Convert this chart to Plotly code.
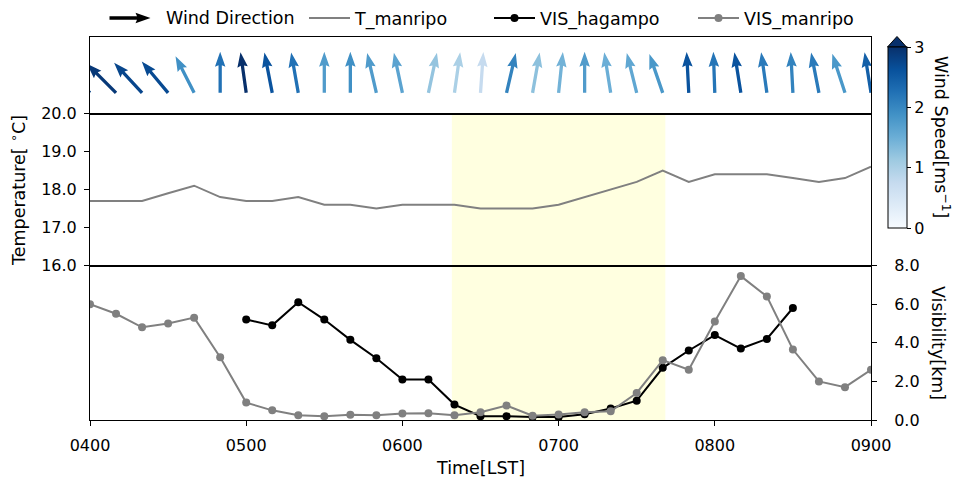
import math
import plotly.graph_objects as go
from plotly.colors import sequential, sample_colorscale

# ---------------- data ----------------
times = ["0400", "0410", "0420", "0430", "0440", "0450",
         "0500", "0510", "0520", "0530", "0540", "0550",
         "0600", "0610", "0620", "0630", "0640", "0650",
         "0700", "0710", "0720", "0730", "0740", "0750",
         "0800", "0810", "0820", "0830", "0840", "0850",
         "0900"]

temp_manripo = [17.7, 17.7, 17.7, 17.9, 18.1, 17.8,
                17.7, 17.7, 17.8, 17.6, 17.6, 17.5,
                17.6, 17.6, 17.6, 17.5, 17.5, 17.5,
                17.6, 17.8, 18.0, 18.2, 18.5, 18.2,
                18.4, 18.4, 18.4, 18.3, 18.2, 18.3,
                18.6]

vis_hagampo = [None, None, None, None, None, None,
               5.2, 4.9, 6.1, 5.2, 4.15, 3.2,
               2.1, 2.1, 0.8, 0.2, 0.2, 0.15,
               0.15, 0.3, 0.6, 1.0, 2.7, 3.6,
               4.4, 3.7, 4.2, 5.8, None, None,
               None]

vis_manripo = [6.0, 5.5, 4.8, 5.0, 5.3, 3.25,
               0.9, 0.5, 0.25, 0.2, 0.27, 0.25,
               0.34, 0.35, 0.25, 0.4, 0.75, 0.22,
               0.29, 0.4, 0.45, 1.4, 3.1, 2.6,
               5.1, 7.45, 6.4, 3.65, 2.0, 1.7,
               2.6]

# meteorological wind direction (deg, direction the wind blows from)
wind_dir = [135, 135, 137, 140, 153, 180,
            172, 169, 170, 180, 180, 167,
            168, 192, 188, 184, 193, 190,
            186, 180, 171, 166, 161, 177,
            178, 171, 172, 177, 169, 162,
            171]

wind_speed = [2.8, 2.9, 2.75, 2.7, 1.9, 2.25,
              3.0, 2.6, 2.25, 1.75, 1.9, 1.75,
              1.65, 1.2, 1.0, 0.75, 2.05, 1.25,
              1.45, 1.75, 1.5, 1.6, 1.8, 2.6,
              2.2, 2.6, 2.15, 2.05, 2.15, 1.8,
              2.45]

shade_start, shade_end = "0619", "0741"
x_tick_labels = ["0400", "0500", "0600", "0700", "0800", "0900"]
temp_ticks = [16, 17, 18, 19, 20]
vis_ticks = [0, 2, 4, 6, 8]
speed_ticks = [0, 1, 2, 3]

# ---------------- layout geometry ----------------
W, H = 955, 477
ML, MR, MT, MB = 90, 84, 37, 57
PW, PH = W - ML - MR, H - MT - MB
FONT = "DejaVu Sans"
FS_TICK = 16
FS_LAB = 17.5


def xpaper(px):
    return (px - ML) / PW


def ypaper(py):
    return (H - MB - py) / PH


def to_min(s):
    return int(s[:2]) * 60 + int(s[2:])


xm = [to_min(t) for t in times]
xtv = [to_min(t) for t in x_tick_labels]
x0, x1 = xtv[0], xtv[-1]
ppm = PW / (x1 - x0)           # pixels per minute

d_vis_top = ypaper(265.5)
d_temp_top = ypaper(113.5)
wind_h = PH * (1 - d_temp_top)  # wind panel height in px

blues = [[i / (len(sequential.Blues) - 1), c] for i, c in enumerate(sequential.Blues)]
GRAY = "#808080"

fig = go.Figure()

# ---------------- wind arrows (quiver-like polygons) ----------------
L, SW, HWD, HL, HAL = 41, 3.3, 10.5, 15, 13.5
tail_y = 0.27
shape_pts = [(0, -SW / 2), (L - HAL, -SW / 2), (L - HL, -HWD / 2), (L, 0),
             (L - HL, HWD / 2), (L - HAL, SW / 2), (0, SW / 2), (0, -SW / 2)]
for t, d, s in zip(xm, wind_dir, wind_speed):
    r = math.radians(d)
    u, v = -math.sin(r), -math.cos(r)
    n = math.hypot(u, v)
    ux, uy = u / n, v / n
    nx, ny = -uy, ux
    xs = [t + (a * ux + b * nx) / ppm for a, b in shape_pts]
    ys = [tail_y + (a * uy + b * ny) / wind_h for a, b in shape_pts]
    col = sample_colorscale(blues, [min(s / 3.0, 1.0)])[0]
    fig.add_trace(go.Scatter(x=xs, y=ys, mode="lines", fill="toself",
                             fillcolor=col, line=dict(width=0),
                             xaxis="x3", yaxis="y3", showlegend=False,
                             hoverinfo="skip"))

# colorbar carrier
fig.add_trace(go.Scatter(
    x=xm, y=[tail_y] * len(xm), mode="markers", xaxis="x3", yaxis="y3",
    marker=dict(color=wind_speed, colorscale=blues, cmin=0, cmax=3, size=1,
                opacity=0, showscale=True,
                colorbar=dict(x=xpaper(887.5), xanchor="left", xpad=0,
                              y=ypaper(228), yanchor="bottom", ypad=0,
                              len=(228 - 47) / PH, lenmode="fraction",
                              thickness=19, thicknessmode="pixels",
                              outlinewidth=1, outlinecolor="black",
                              tickvals=speed_ticks, ticks="outside",
                              ticklen=4, tickcolor="black",
                              tickfont=dict(family=FONT, size=FS_TICK, color="black"))),
    showlegend=False, hoverinfo="skip"))

# ---------------- temperature ----------------
fig.add_trace(go.Scatter(x=xm, y=temp_manripo, mode="lines", name="T_manripo",
                         line=dict(color=GRAY, width=2), xaxis="x2", yaxis="y2",
                         legend="legend"))

# ---------------- visibility ----------------
fig.add_trace(go.Scatter(x=xm, y=vis_hagampo, mode="lines+markers", name="VIS_hagampo",
                         line=dict(color="black", width=2),
                         marker=dict(color="black", size=8),
                         xaxis="x", yaxis="y", legend="legend2"))
fig.add_trace(go.Scatter(x=xm, y=vis_manripo, mode="lines+markers", name="VIS_manripo",
                         line=dict(color=GRAY, width=2),
                         marker=dict(color=GRAY, size=8),
                         xaxis="x", yaxis="y", legend="legend3"))

# shaded period
fig.add_shape(type="rect", xref="x", yref="paper", x0=to_min(shade_start),
              x1=to_min(shade_end), y0=0, y1=d_temp_top,
              fillcolor="#FFFFE0", line=dict(width=0), layer="below")

# legend arrow (Wind Direction)
lx0, ly = 109.5, 18
pts = [(lx0 + a, ly - b) for a, b in shape_pts]
path = "M " + " L ".join(f"{xpaper(px):.5f},{ypaper(py):.5f}" for px, py in pts) + " Z"
fig.add_shape(type="path", xref="paper", yref="paper", path=path,
              fillcolor="black", line=dict(width=0))

# colorbar extend triangle
tri = [(887.5, 47), (906.5, 47), (897, 36.5)]
tpath = "M " + " L ".join(f"{xpaper(px):.5f},{ypaper(py):.5f}" for px, py in tri) + " Z"
fig.add_shape(type="path", xref="paper", yref="paper", path=tpath,
              fillcolor=sequential.Blues[-1], line=dict(color="black", width=1))

axis_common = dict(showgrid=False, zeroline=False, showline=True, mirror=True,
                   linecolor="black", linewidth=1,
                   tickfont=dict(family=FONT, size=FS_TICK, color="black"))

leg_common = dict(y=ypaper(18), xanchor="left", yanchor="middle",
                  orientation="h", bgcolor="rgba(0,0,0,0)", itemwidth=41,
                  font=dict(family=FONT, size=FS_LAB, color="black"))

fig.update_layout(
    width=W, height=H,
    margin=dict(l=ML, r=MR, t=MT, b=MB, autoexpand=False),
    plot_bgcolor="white", paper_bgcolor="white",
    font=dict(family=FONT, size=FS_LAB, color="black"),
    xaxis=dict(domain=[0, 1], anchor="y", range=[x0, x1], tickvals=xtv,
               ticktext=x_tick_labels, ticks="outside", ticklen=5,
               ticklabelstandoff=6, tickcolor="black", **axis_common),
    yaxis=dict(domain=[0, d_vis_top], anchor="x", side="right", range=[0, 8],
               tickvals=vis_ticks, tickformat=".1f", ticks="outside",
               ticklen=5, ticklabelstandoff=14, tickcolor="black", **axis_common),
    xaxis2=dict(domain=[0, 1], anchor="y2", matches="x", range=[x0, x1],
                showticklabels=False, ticks="", **axis_common),
    yaxis2=dict(domain=[d_vis_top, d_temp_top], anchor="x2", range=[16, 20],
                tickvals=temp_ticks, tickformat=".1f", ticks="outside",
                ticklen=5, ticklabelstandoff=4, tickcolor="black", **axis_common),
    xaxis3=dict(domain=[0, 1], anchor="y3", matches="x", range=[x0, x1],
                showticklabels=False, ticks="", **axis_common),
    yaxis3=dict(domain=[d_temp_top, 1], anchor="x3", range=[0, 1],
                showticklabels=False, ticks="", **axis_common),
    legend=dict(x=xpaper(304), **leg_common),
    legend2=dict(x=xpaper(489), **leg_common),
    legend3=dict(x=xpaper(693), **leg_common),
    showlegend=True,
)

ann_font = dict(family=FONT, size=FS_LAB, color="black")
fig.add_annotation(text="Wind Direction", xref="paper", yref="paper",
                   x=xpaper(164), y=ypaper(18), xanchor="left", yanchor="middle",
                   showarrow=False, font=ann_font)
fig.add_annotation(text="Temperature[ <sup>∘</sup>C]", xref="paper", yref="paper",
                   x=xpaper(18), y=ypaper(191), xanchor="center", yanchor="middle",
                   textangle=-90, showarrow=False, font=ann_font)
fig.add_annotation(text="Visibility[km]", xref="paper", yref="paper",
                   x=xpaper(938), y=ypaper(343), xanchor="center", yanchor="middle",
                   textangle=90, showarrow=False, font=ann_font)
fig.add_annotation(text="Wind Speed[ms<sup>−1</sup>]", xref="paper", yref="paper",
                   x=xpaper(942), y=ypaper(137), xanchor="center", yanchor="middle",
                   textangle=90, showarrow=False, font=ann_font)
fig.add_annotation(text="Time[LST]", xref="paper", yref="paper",
                   x=xpaper(481), y=ypaper(468), xanchor="center", yanchor="middle",
                   showarrow=False, font=ann_font)

fig.write_html("out.html")
